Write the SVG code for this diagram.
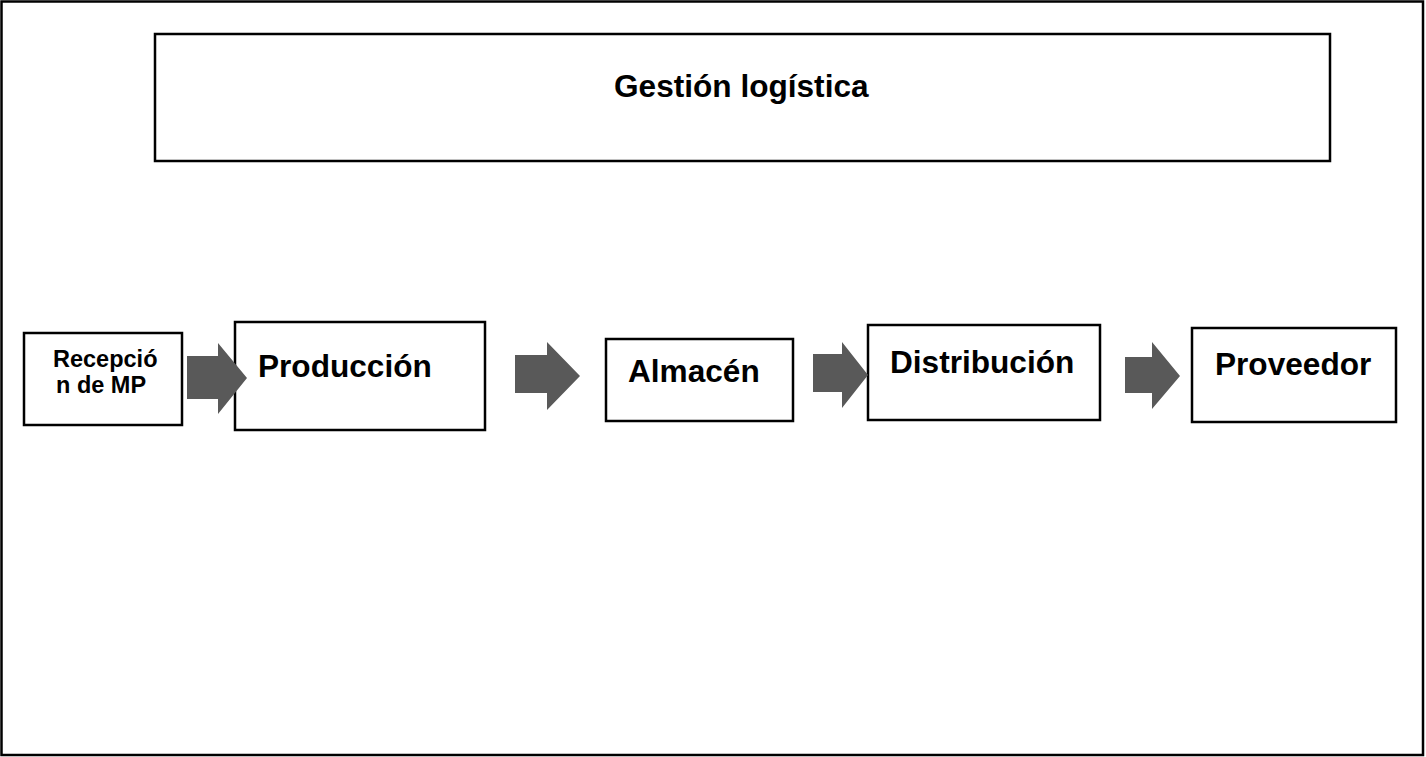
<svg xmlns="http://www.w3.org/2000/svg" width="1426" height="757" viewBox="0 0 1426 757">
<style>
.box{fill:#fff;stroke:#000;stroke-width:2.5}
.arr{fill:#595959}
.t{font-family:"Liberation Sans",Arial,sans-serif;font-weight:bold;fill:#000}
</style>
<rect x="1.5" y="1.5" width="1421.5" height="753.5" fill="#fff" stroke="#000" stroke-width="2.5"/>
<g id="gestion">
<rect class="box" x="155" y="34" width="1175" height="127"/>
<text class="t" x="614" y="97" font-size="31.6">Gestión logística</text>
</g>
<g id="recepcion">
<rect class="box" x="24" y="333" width="158" height="92"/>
<text class="t" x="53" y="367" font-size="23.5">Recepció</text>
<text class="t" x="56" y="393" font-size="23.5">n de MP</text>
</g>
<g id="produccion">
<rect class="box" x="235" y="322" width="250" height="108"/>
<text class="t" x="258" y="377" font-size="31.6">Producción</text>
</g>
<g id="almacen">
<rect class="box" x="606" y="339" width="187" height="82"/>
<text class="t" x="628" y="382" font-size="31.6">Almacén</text>
</g>
<g id="distribucion">
<rect class="box" x="868" y="325" width="232" height="95"/>
<text class="t" x="890" y="373" font-size="31.6">Distribución</text>
</g>
<g id="proveedor">
<rect class="box" x="1192" y="328" width="204" height="94"/>
<text class="t" x="1215" y="375" font-size="31.6">Proveedor</text>
</g>
<g id="connectors">
<polygon class="arr" points="187,356 218,356 218,343 247,378 218,414 218,399 187,399"/>
<polygon class="arr" points="515,355 547,355 547,342 580,376 547,410 547,393 515,393"/>
<polygon class="arr" points="813,354 842,354 842,342 868,375 842,408 842,392 813,392"/>
<polygon class="arr" points="1125,357 1152,357 1152,342 1180,376 1152,409 1152,393 1125,393"/>
</g>
</svg>
